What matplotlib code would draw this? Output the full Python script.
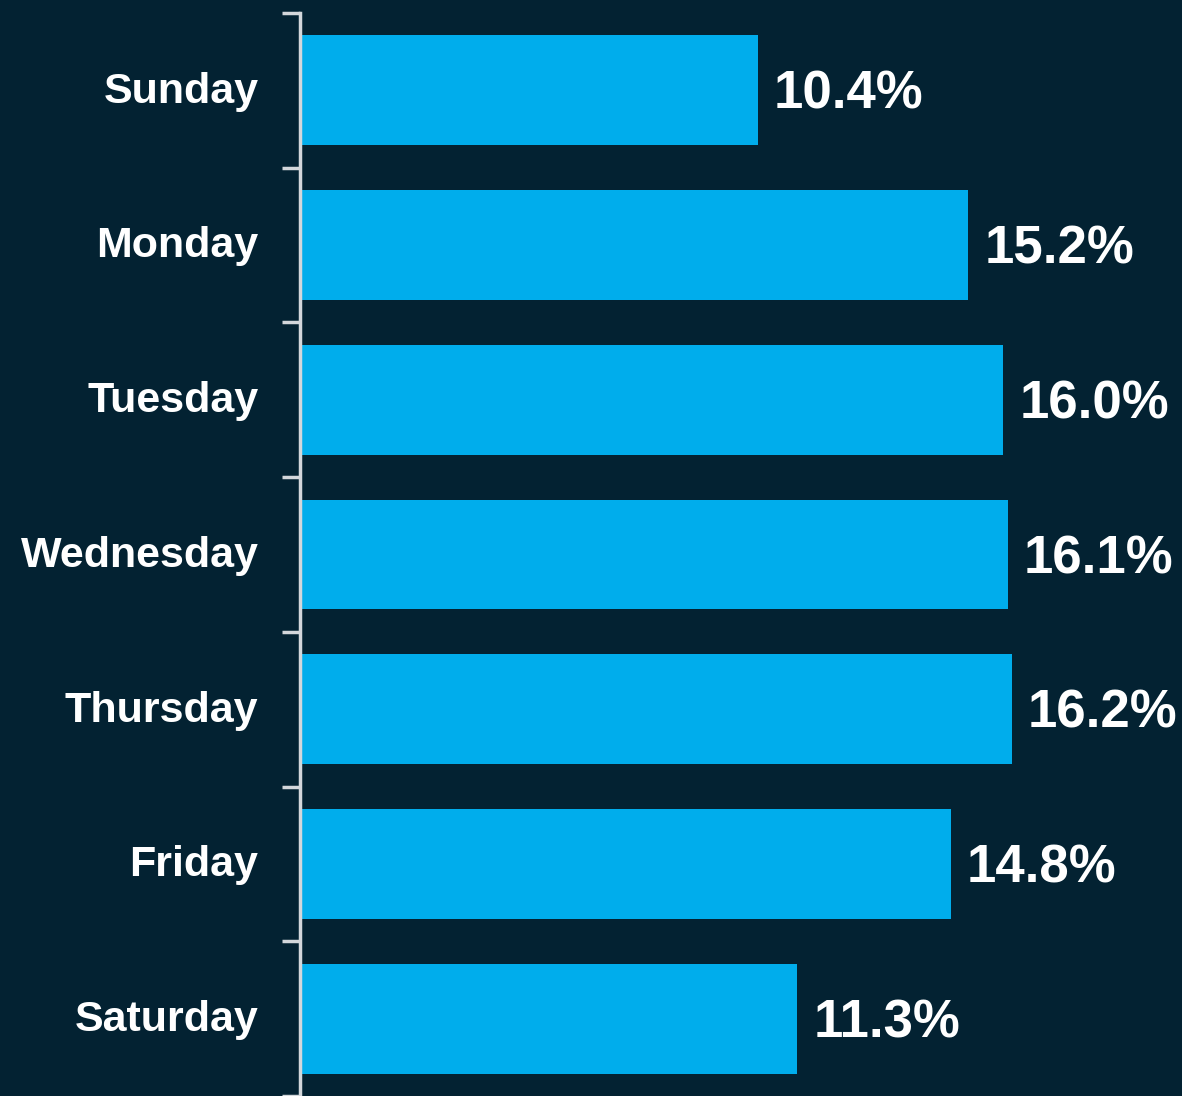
import matplotlib
matplotlib.use("Agg")
import matplotlib.pyplot as plt

days = ["Sunday", "Monday", "Tuesday", "Wednesday", "Thursday", "Friday", "Saturday"]
shares = [10.4, 15.2, 16.0, 16.1, 16.2, 14.8, 11.3]

BG = "#032232"
BAR = "#00ADEC"
AX = "#d3d7db"
FONT = ["Liberation Sans", "DejaVu Sans"]

plt.rcParams["font.family"] = FONT

fig = plt.figure(figsize=(11.82, 10.96), dpi=100, facecolor=BG)
ax = fig.add_axes([300/1182, 0.0, 882/1182, (1096-13)/1096])
ax.set_facecolor(BG)

y = list(range(len(days)))
ax.barh(y, shares, height=0.71, color=BAR, left=0.04)
ax.set_ylim(len(days) - 0.5, -0.5)
ax.set_xlim(0, 20.11)

for yi, v in zip(y, shares):
    ax.text(v + 0.04 + 0.36, yi + 0.03, f"{v:.1f}%", va="center", ha="left",
            color="white", fontsize=38, fontweight="bold", family=FONT)

ax.set_yticks([i - 0.5 for i in range(len(days) + 1)], minor=False)
ax.set_yticklabels([""] * (len(days) + 1))
ax.set_yticks([yi - 0.02 for yi in y], minor=True)
ax.set_yticklabels(days, minor=True)
ax.tick_params(axis="y", which="major", length=13, width=2.5, color=AX, direction="out")
ax.tick_params(axis="y", which="minor", length=0, pad=30, labelsize=31,
               labelcolor="white")
for lab in ax.get_yticklabels(minor=True):
    lab.set_fontweight("bold")
    lab.set_family(FONT)
ax.set_xticks([])
for s in ["top", "right", "bottom"]:
    ax.spines[s].set_visible(False)
ax.spines["left"].set_color(AX)
ax.spines["left"].set_linewidth(2.5)

fig.savefig("out.png", dpi=100, facecolor=BG)
